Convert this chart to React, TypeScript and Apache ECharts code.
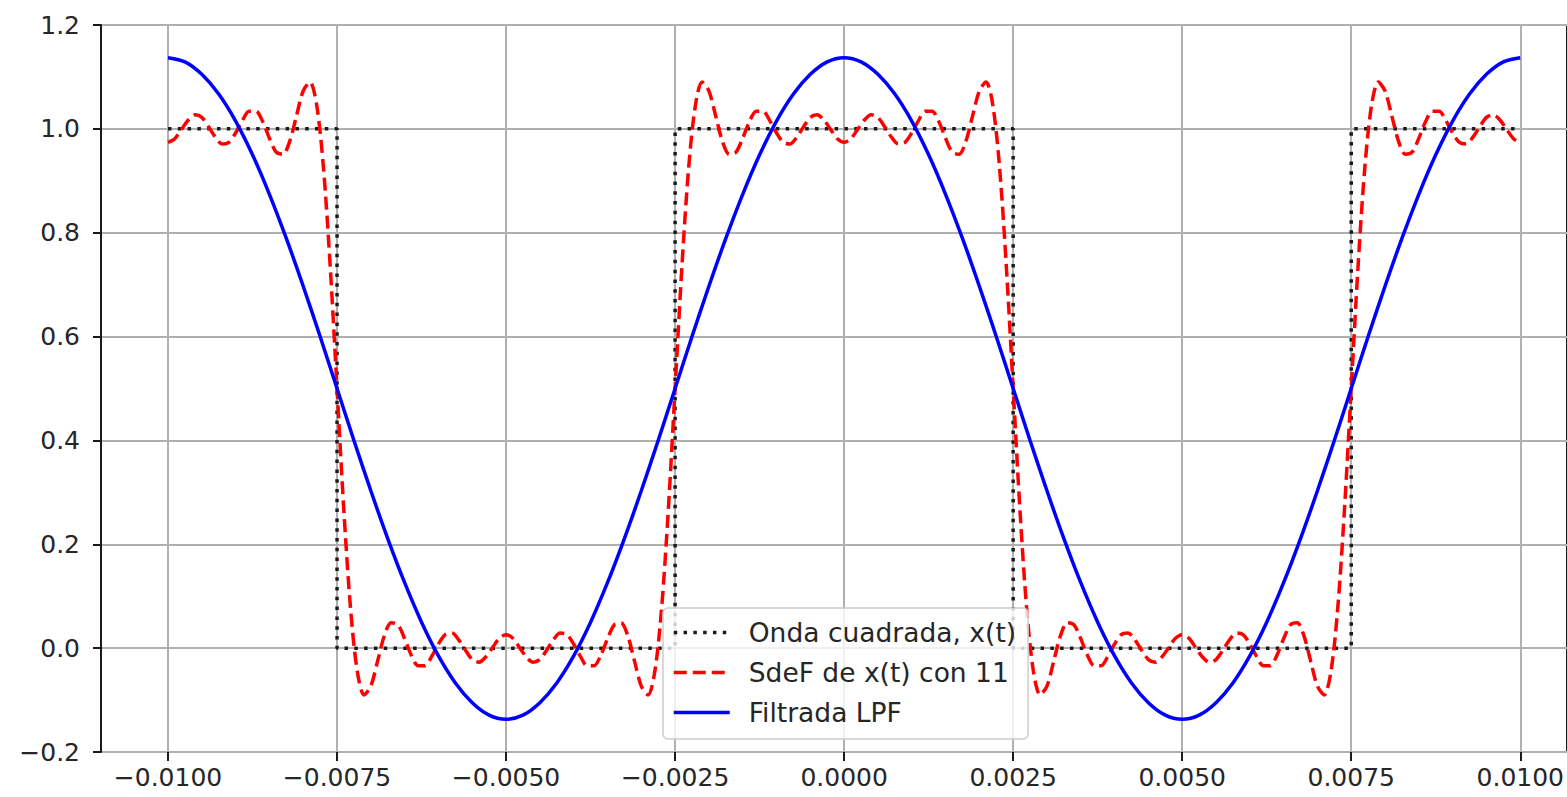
import React, { useEffect, useRef } from "react";
import * as echarts from "echarts";

// ---- Data ----
const seriesNames = ["Onda cuadrada, x(t)", "SdeF de x(t) con 11", "Filtrada LPF"];

const xTicks = [-0.01, -0.0075, -0.005, -0.0025, 0, 0.0025, 0.005, 0.0075, 0.01];
const yTicks = [-0.2, 0.0, 0.2, 0.4, 0.6, 0.8, 1.0, 1.2];

// square wave corners
const squareT = [-0.01, -0.0075, -0.0075, -0.0025, -0.0025, 0.0025, 0.0025, 0.0075, 0.0075, 0.01];
const squareV = [1, 1, 0, 0, 1, 1, 0, 0, 1, 1];

// Fourier-series curve, sampled every 0.0001 s from -0.01 to 0.01
const redStart = -0.01;
const redStep = 0.0001;
const redV = [
  0.974, 0.981, 0.999, 1.017, 1.027, 1.022, 1.004, 0.984, 0.971, 0.974, 0.992, 1.016, 1.034, 1.034, 1.014, 0.982, 0.955, 0.951, 0.976, 1.025, 1.073, 1.090, 1.045, 0.924, 0.733, 0.500, 0.267, 0.076, -0.045, -0.090, -0.073, -0.025, 0.024, 0.049, 0.045, 0.018, -0.014, -0.034, -0.034, -0.016, 0.008, 0.026, 0.029, 0.016, -0.004, -0.022, -0.027, -0.017, 0.001, 0.019, 0.026,
  0.019, 0.001, -0.017, -0.027, -0.022, -0.004, 0.016, 0.029, 0.026, 0.008, -0.016, -0.034, -0.034, -0.014, 0.018, 0.045, 0.049, 0.024, -0.025, -0.073, -0.090, -0.045, 0.076, 0.267, 0.500, 0.733, 0.924, 1.045, 1.090, 1.073, 1.025, 0.976, 0.951, 0.955, 0.982, 1.014, 1.034, 1.034, 1.016, 0.992, 0.974, 0.971, 0.984, 1.004, 1.022, 1.027, 1.017, 0.999, 0.981, 0.974,
  0.981, 0.999, 1.017, 1.027, 1.022, 1.004, 0.984, 0.971, 0.974, 0.992, 1.016, 1.034, 1.034, 1.014, 0.982, 0.955, 0.951, 0.976, 1.025, 1.073, 1.090, 1.045, 0.924, 0.733, 0.500, 0.267, 0.076, -0.045, -0.090, -0.073, -0.025, 0.024, 0.049, 0.045, 0.018, -0.014, -0.034, -0.034, -0.016, 0.008, 0.026, 0.029, 0.016, -0.004, -0.022, -0.027, -0.017, 0.001, 0.019, 0.026,
  0.019, 0.001, -0.017, -0.027, -0.022, -0.004, 0.016, 0.029, 0.026, 0.008, -0.016, -0.034, -0.034, -0.014, 0.018, 0.045, 0.049, 0.024, -0.025, -0.073, -0.090, -0.045, 0.076, 0.267, 0.500, 0.733, 0.924, 1.045, 1.090, 1.073, 1.025, 0.976, 0.951, 0.955, 0.982, 1.014, 1.034, 1.034, 1.016, 0.992, 0.974, 0.971, 0.984, 1.004, 1.022, 1.027, 1.017, 0.999, 0.981, 0.974,
];

// Low-pass filtered curve, sampled every 0.00025 s from -0.01 to 0.01
const blueStart = -0.01;
const blueStep = 0.00025;
const blueV = [
  1.137, 1.129, 1.105, 1.067, 1.015, 0.950, 0.874, 0.789, 0.697, 0.600, 0.500, 0.400, 0.303, 0.211, 0.126, 0.050, -0.015, -0.067, -0.105, -0.129, -0.137,
  -0.129, -0.105, -0.067, -0.015, 0.050, 0.126, 0.211, 0.303, 0.400, 0.500, 0.600, 0.697, 0.789, 0.874, 0.950, 1.015, 1.067, 1.105, 1.129, 1.137,
  1.129, 1.105, 1.067, 1.015, 0.950, 0.874, 0.789, 0.697, 0.600, 0.500, 0.400, 0.303, 0.211, 0.126, 0.050, -0.015, -0.067, -0.105, -0.129, -0.137,
  -0.129, -0.105, -0.067, -0.015, 0.050, 0.126, 0.211, 0.303, 0.400, 0.500, 0.600, 0.697, 0.789, 0.874, 0.950, 1.015, 1.067, 1.105, 1.129, 1.137,
];

const FONT = "DejaVu Sans";
const TEXT = "#262626";
const AXIS = "#1a1a1a";
const GRID = "#b0b0b0";

const fmtMinus = (s: string) => s.replace("-", "\u2212");

export default function App() {
  const ref = useRef<HTMLDivElement>(null);

  useEffect(() => {
    if (!ref.current) return;
    const chart = echarts.init(ref.current, null, { renderer: "svg" });

    const squareData = squareT.map((t, i) => [t, squareV[i]]);
    const redData = redV.map((v, i) => [redStart + i * redStep, v]);
    const blueData = blueV.map((v, i) => [blueStart + i * blueStep, v]);

    chart.setOption({
      animation: false,
      backgroundColor: "#ffffff",
      grid: [
        {
          left: 101,
          top: 25,
          width: 1490,
          height: 727,
          show: true,
          borderColor: AXIS,
          borderWidth: 2,
          backgroundColor: "transparent",
        },
        { left: 168, top: 25, width: 1355, height: 727 },
      ],
      xAxis: [
        {
          gridIndex: 0,
          type: "value",
          min: -0.011,
          max: 0.011,
          show: false,
          axisLine: { show: false, onZero: false },
          axisTick: { show: false },
          axisLabel: { show: false },
          splitLine: { show: false },
        },
        {
          gridIndex: 1,
          type: "value",
          position: "bottom",
          min: xTicks[0],
          max: xTicks[xTicks.length - 1],
          interval: 0.0025,
          axisLine: { show: false, onZero: false },
          axisTick: { show: true, length: 9, lineStyle: { color: AXIS, width: 2 } },
          axisLabel: {
            margin: 13,
            fontSize: 25,
            color: TEXT,
            fontFamily: FONT,
            formatter: (v: number) => fmtMinus((Math.abs(v) < 1e-9 ? 0 : v).toFixed(4)),
          },
          splitLine: { show: true, lineStyle: { color: GRID, width: 2 } },
        },
      ],
      yAxis: [
        {
          gridIndex: 0,
          type: "value",
          position: "left",
          min: yTicks[0],
          max: yTicks[yTicks.length - 1],
          interval: 0.2,
          axisLine: { show: true, onZero: false, lineStyle: { color: AXIS, width: 2 } },
          axisTick: { show: true, length: 8, lineStyle: { color: AXIS, width: 2 } },
          axisLabel: {
            margin: 21,
            fontSize: 25,
            color: TEXT,
            fontFamily: FONT,
            formatter: (v: number) => fmtMinus((Math.abs(v) < 1e-9 ? 0 : v).toFixed(1)),
          },
          splitLine: { show: true, lineStyle: { color: GRID, width: 2 } },
        },
        {
          gridIndex: 1,
          type: "value",
          min: -0.2,
          max: 1.2,
          show: false,
          axisLine: { show: false, onZero: false },
          axisTick: { show: false },
          axisLabel: { show: false },
          splitLine: { show: false },
        },
      ],
      legend: {
        show: true,
        orient: "vertical",
        left: 663,
        top: 608,
        data: seriesNames,
        itemWidth: 56,
        itemHeight: 14,
        itemGap: 13,
        padding: [11, 12, 13, 9],
        backgroundColor: "rgba(255,255,255,0.8)",
        borderColor: "#cccccc",
        borderWidth: 1.5,
        borderRadius: 5,
        lineStyle: { width: 3.5 },
        itemStyle: { color: "rgba(0,0,0,0)", borderColor: "rgba(0,0,0,0)", borderWidth: 0, opacity: 0 },
        textStyle: {
          fontSize: 26.5,
          lineHeight: 26,
          color: TEXT,
          fontFamily: FONT,
          padding: [0, 0, 0, 14],
        },
      },
      series: [
        {
          name: seriesNames[0],
          type: "line",
          xAxisIndex: 1,
          yAxisIndex: 1,
          data: squareData,
          symbol: "none",
          lineStyle: { color: "#1a1a1a", width: 3.5, type: [3.5, 6.3], cap: "butt" },
          itemStyle: { color: "#1a1a1a" },
        },
        {
          name: seriesNames[1],
          type: "line",
          xAxisIndex: 1,
          yAxisIndex: 1,
          data: redData,
          symbol: "none",
          smooth: 0.3,
          lineStyle: { color: "#ff0000", width: 3.5, type: [13, 6], cap: "butt" },
          itemStyle: { color: "#ff0000" },
        },
        {
          name: seriesNames[2],
          type: "line",
          xAxisIndex: 1,
          yAxisIndex: 1,
          data: blueData,
          symbol: "none",
          smooth: 0.3,
          lineStyle: { color: "#0000ff", width: 3.5 },
          itemStyle: { color: "#0000ff" },
        },
      ],
    });

    return () => chart.dispose();
  }, []);

  return (
    <div
      ref={ref}
      style={{ position: "absolute", left: 0, top: 0, width: 1567, height: 797, background: "#fff", overflow: "hidden" }}
    />
  );
}
